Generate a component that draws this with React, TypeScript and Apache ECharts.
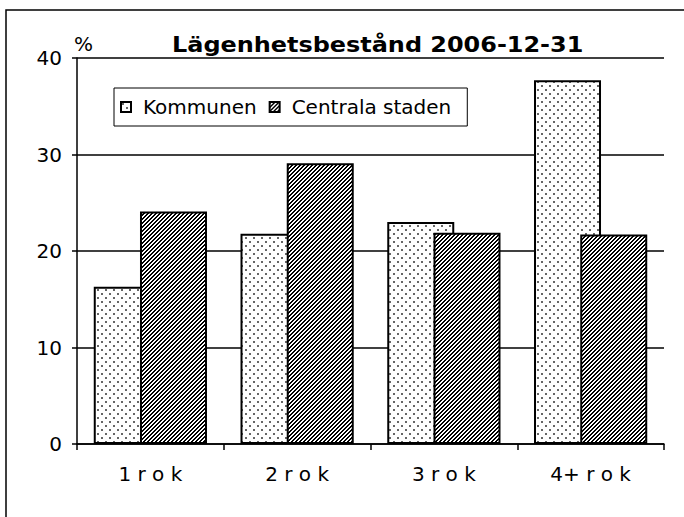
import { useEffect, useRef } from "react";
import * as echarts from "echarts";

const categories = ["1 r o k", "2 r o k", "3 r o k", "4+ r o k"];
const seriesNames = ["Kommunen", "Centrala staden"];
const kommunen = [16.3, 21.8, 23.0, 37.7];
const centrala = [24.1, 29.1, 21.9, 21.7];
const yMin = 0;
const yMax = 40;
const yInterval = 10;
const titleText = "Lägenhetsbestånd 2006-12-31";
const unitText = "%";

const FONT = "DejaVu Sans";

function makeDots(): HTMLCanvasElement {
  const c = document.createElement("canvas");
  c.width = 8;
  c.height = 8;
  const ctx = c.getContext("2d")!;
  ctx.fillStyle = "#ffffff";
  ctx.fillRect(0, 0, 8, 8);
  ctx.fillStyle = "#666666";
  ctx.fillRect(1, 1, 2, 2);
  ctx.fillRect(5, 5, 2, 2);
  return c;
}

function makeHatch(): HTMLCanvasElement {
  const c = document.createElement("canvas");
  c.width = 4;
  c.height = 4;
  const ctx = c.getContext("2d")!;
  ctx.fillStyle = "#ffffff";
  ctx.fillRect(0, 0, 4, 4);
  ctx.fillStyle = "#000000";
  for (let x = 0; x < 4; x++) {
    for (let y = 0; y < 4; y++) {
      if ((x + y) % 4 < 2) ctx.fillRect(x, y, 1, 1);
    }
  }
  return c;
}

export default function App() {
  const ref = useRef<HTMLDivElement>(null);

  useEffect(() => {
    if (!ref.current) return;
    const chart = echarts.init(ref.current, undefined, { renderer: "svg" });
    const dots = makeDots();
    const hatch = makeHatch();

    chart.setOption({
      animation: false,
      backgroundColor: "#ffffff",
      grid: { left: 77, right: 20, top: 58, bottom: 73, containLabel: false },
      legend: {
        left: 114,
        top: 88,
        orient: "horizontal",
        backgroundColor: "#ffffff",
        borderColor: "#000000",
        borderWidth: 1,
        borderRadius: 0,
        padding: [9, 16, 9, 6],
        itemWidth: 10,
        itemHeight: 10,
        itemGap: 12,
        icon: "rect",
        textStyle: { fontFamily: FONT, fontSize: 20, color: "#000000", padding: [0, 0, 0, 7] },
        data: seriesNames,
      },
      xAxis: {
        type: "category",
        data: categories,
        boundaryGap: true,
        axisLine: { show: true, lineStyle: { color: "#000000", width: 1.5 } },
        axisTick: { show: true, length: 6, lineStyle: { color: "#000000", width: 1.5 } },
        axisLabel: { fontFamily: FONT, fontSize: 20, color: "#000000", margin: 20 },
        splitLine: { show: false },
      },
      yAxis: {
        type: "value",
        min: yMin,
        max: yMax,
        interval: yInterval,
        axisLine: { show: true, lineStyle: { color: "#000000", width: 1.5 } },
        axisTick: { show: true, length: 5, lineStyle: { color: "#000000", width: 1.5 } },
        axisLabel: { fontFamily: FONT, fontSize: 20, color: "#000000", margin: 15 },
        splitLine: { show: true, lineStyle: { color: "#000000", width: 1.5 } },
      },
      series: [
        {
          type: "bar",
          name: seriesNames[0],
          data: kommunen,
          barWidth: 67,
          barGap: "-31%",
          itemStyle: {
            color: { image: dots, repeat: "repeat" },
            borderColor: "#000000",
            borderWidth: 2,
          },
        },
        {
          type: "bar",
          name: seriesNames[1],
          data: centrala,
          barWidth: 67,
          barGap: "-31%",
          itemStyle: {
            color: { image: hatch, repeat: "repeat" },
            borderColor: "#000000",
            borderWidth: 2,
          },
        },
      ],
      graphic: [
        {
          type: "rect",
          silent: true,
          z: -1,
          shape: { x: 6, y: 10, width: 720, height: 560 },
          style: { fill: "none", stroke: "#000000", lineWidth: 1.5 },
        },
        {
          type: "text",
          x: 172,
          y: 45,
          scaleX: 1.14,
          style: {
            text: titleText,
            fontFamily: FONT,
            fontSize: 21,
            fontWeight: "bold",
            fill: "#000000",
            align: "left",
            verticalAlign: "middle",
          },
        },
        {
          type: "text",
          x: 74,
          y: 44,
          style: {
            text: unitText,
            fontFamily: FONT,
            fontSize: 20,
            fill: "#000000",
            align: "left",
            verticalAlign: "middle",
          },
        },
      ],
    });

    return () => {
      chart.dispose();
    };
  }, []);

  return (
    <div
      ref={ref}
      style={{ position: "fixed", left: 0, top: 0, width: 684, height: 517 }}
    />
  );
}
